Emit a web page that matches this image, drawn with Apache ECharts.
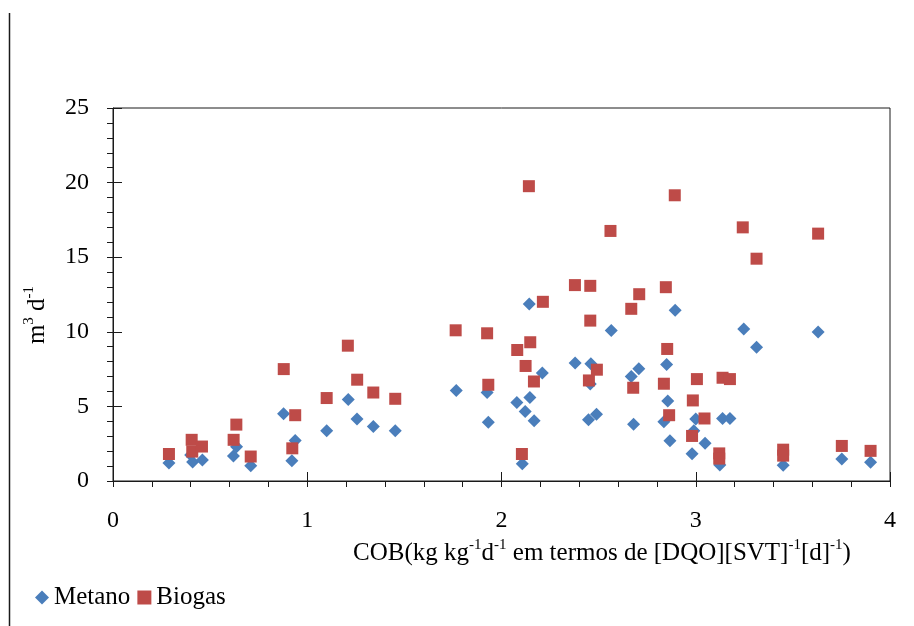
<!DOCTYPE html>
<html>
<head>
<meta charset="utf-8">
<script src="https://cdn.jsdelivr.net/npm/echarts@6/dist/echarts.min.js"></script>
<style>
  html, body { margin: 0; padding: 0; background: #ffffff; }
  #chart { width: 914px; height: 626px; }
</style>
</head>
<body>
<div id="chart"></div>
<script>
// COB (kg kg-1 d-1) values and daily volumes (m3 d-1)
const metanoX = [0.288, 0.40, 0.41, 0.46, 0.62, 0.636, 0.709, 0.878, 0.921, 0.938, 1.10, 1.211, 1.256, 1.34, 1.453,
  1.767, 1.926, 1.932, 2.079, 2.122, 2.107, 2.143, 2.146, 2.168, 2.21, 2.379, 2.46, 2.457, 2.448, 2.489,
  2.565, 2.668, 2.707, 2.68, 2.894, 2.85, 2.856, 2.836, 2.867, 2.981, 2.99, 3.0, 3.048, 3.124, 3.138,
  3.176, 3.247, 3.313, 3.45, 3.63, 3.752, 3.9];
const metanoY = [1.21, 1.75, 1.28, 1.41, 1.68, 2.3, 1.03, 4.5, 1.36, 2.71, 3.36, 5.46, 4.15, 3.65, 3.36,
  6.07, 5.93, 3.94, 5.26, 4.66, 1.16, 11.87, 5.6, 4.03, 7.24, 7.91, 7.86, 6.5, 4.1, 4.48,
  10.08, 7.01, 7.53, 3.81, 11.45, 7.8, 5.36, 3.97, 2.69, 1.83, 3.36, 4.15, 2.53, 1.07, 4.19,
  4.19, 10.19, 8.96, 1.05, 9.99, 1.48, 1.26];

const biogasX = [0.288, 0.405, 0.408, 0.458, 0.621, 0.635, 0.709, 0.879, 0.923, 0.938, 1.10, 1.209, 1.257, 1.34, 1.453,
  1.764, 1.926, 1.932, 2.081, 2.124, 2.148, 2.105, 2.141, 2.167, 2.213, 2.378, 2.457, 2.457, 2.45, 2.491,
  2.561, 2.668, 2.709, 2.678, 2.892, 2.846, 2.853, 2.836, 2.863, 2.981, 2.985, 3.006, 3.045, 3.121, 3.121,
  3.138, 3.176, 3.242, 3.313, 3.45, 3.45, 3.63, 3.752, 3.9];
const biogasY = [1.81, 2.76, 1.97, 2.31, 2.76, 3.78, 1.64, 7.5, 2.19, 4.41, 5.56, 9.07, 6.79, 5.93, 5.51,
  10.1, 9.9, 6.45, 8.78, 7.71, 9.3, 1.81, 19.76, 6.67, 12.01, 13.13, 13.08, 10.75, 6.74, 7.46,
  16.76, 11.54, 12.52, 6.25, 19.15, 12.99, 8.85, 6.52, 4.41, 3.02, 5.4, 6.83, 4.19, 1.85, 1.5,
  6.92, 6.83, 17.0, 14.9, 2.1, 1.7, 16.58, 2.35, 2.02];

const xTicks = [0, 1, 2, 3, 4];
const yTicks = [0, 5, 10, 15, 20, 25];

const FONT = '"Liberation Serif", "Times New Roman", serif';
const pairs = (xs, ys) => xs.map((x, i) => [x, ys[i]]);

const baseX = {
  type: 'value', min: xTicks[0], max: xTicks[xTicks.length - 1], interval: 1,
  splitLine: { show: false }
};
const baseY = {
  type: 'value', min: yTicks[0], max: yTicks[yTicks.length - 1], interval: 5,
  splitLine: { show: false }
};

const richSup = {
  b: { fontFamily: FONT, fontSize: 25, fill: '#000', lineHeight: 28, verticalAlign: 'bottom' },
  s: { fontFamily: FONT, fontSize: 15, fill: '#000', lineHeight: 28, verticalAlign: 'top' }
};

const chart = echarts.init(document.getElementById('chart'), null, { renderer: 'canvas' });
chart.setOption({
  backgroundColor: '#ffffff',
  animation: false,
  grid: {
    left: 113, top: 108, right: 24, bottom: 145,
    show: true, borderColor: '#1a1a1a', borderWidth: 1, backgroundColor: 'transparent'
  },
  xAxis: [
    Object.assign({}, baseX, {
      axisLine: { show: true, lineStyle: { color: '#1a1a1a', width: 1 } },
      axisTick: { show: true, inside: false, length: 6, lineStyle: { color: '#1a1a1a' } },
      minorTick: { show: true, splitNumber: 5, length: 6, lineStyle: { color: '#1a1a1a' } },
      axisLabel: { fontFamily: FONT, fontSize: 24, color: '#000', margin: 28 }
    }),
    Object.assign({}, baseX, {
      position: 'bottom',
      axisLine: { show: false },
      axisTick: { show: true, inside: true, length: 9, lineStyle: { color: '#1a1a1a' } },
      axisLabel: { show: false }
    })
  ],
  yAxis: [
    Object.assign({}, baseY, {
      axisLine: { show: true, lineStyle: { color: '#1a1a1a', width: 1 } },
      axisTick: { show: true, inside: false, length: 6, lineStyle: { color: '#1a1a1a' } },
      minorTick: { show: true, splitNumber: 5, length: 6, lineStyle: { color: '#1a1a1a' } },
      axisLabel: { fontFamily: FONT, fontSize: 24, color: '#000', margin: 24 }
    }),
    Object.assign({}, baseY, {
      position: 'left',
      axisLine: { show: false },
      axisTick: { show: true, inside: true, length: 9, lineStyle: { color: '#1a1a1a' } },
      axisLabel: { show: false }
    })
  ],
  legend: {
    left: 30, top: 580,
    itemWidth: 14, itemHeight: 14, itemGap: 7,
    textStyle: { fontFamily: FONT, fontSize: 25, color: '#000' },
    data: [
      { name: 'Metano', icon: 'diamond' },
      { name: 'Biogas', icon: 'rect' }
    ]
  },
  graphic: [
    // left frame line
    { type: 'line', shape: { x1: 9.5, y1: 13, x2: 9.5, y2: 626 }, style: { stroke: '#1a1a1a', lineWidth: 1.5 } },
    // y-axis title
    {
      type: 'text', x: 36, y: 315, rotation: Math.PI / 2,
      style: { text: '{b|m}{s|3}{b| d}{s|-1}', align: 'center', verticalAlign: 'middle', rich: richSup }
    },
    // x-axis title
    {
      type: 'text', x: 602, y: 552,
      style: {
        text: '{b|COB(kg kg}{s|-1}{b|d}{s|-1}{b| em termos de [DQO][SVT]}{s|-1}{b|[d]}{s|-1}{b|)}',
        align: 'center', verticalAlign: 'middle', rich: richSup
      }
    }
  ],
  series: [
    {
      name: 'Metano', type: 'scatter', xAxisIndex: 0, yAxisIndex: 0,
      symbol: 'diamond', symbolSize: 13,
      itemStyle: { color: '#4A7EBB', opacity: 1 },
      data: pairs(metanoX, metanoY)
    },
    {
      name: 'Biogas', type: 'scatter', xAxisIndex: 0, yAxisIndex: 0,
      symbol: 'rect', symbolSize: 12,
      itemStyle: { color: '#BE4B48', opacity: 1 },
      data: pairs(biogasX, biogasY)
    }
  ]
});
</script>
</body>
</html>
